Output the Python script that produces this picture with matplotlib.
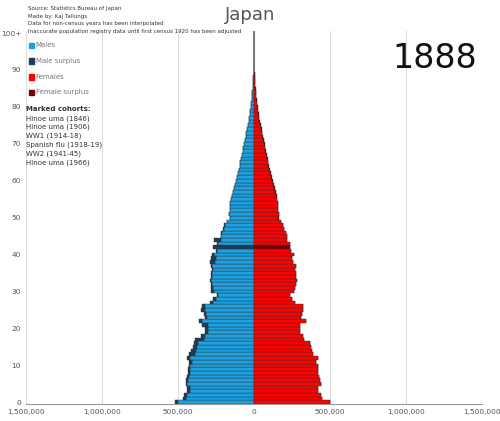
import matplotlib
matplotlib.use("Agg")
import matplotlib.pyplot as plt
import numpy as np

ages = list(range(0, 101))
males = [520,465,460,440,440,450,445,440,435,435,430,430,440,425,415,400,395,390,350,320,
         320,340,360,325,330,350,345,290,270,245,280,285,285,290,280,285,275,280,290,280,
         275,250,270,245,260,220,215,205,195,175,160,165,160,155,160,150,145,140,130,125,
         120,112,105,100,95,90,85,80,75,70,65,60,55,50,45,40,36,32,28,24,
         20,17,14,12,10,8,6,5,4,3,2,1.5,1,0.8,0.6,0.4,0.3,0.2,0.1,0.1,0.2]
females = [500,450,440,420,420,440,435,430,420,420,420,410,420,390,380,375,370,330,320,305,
           300,300,345,310,315,325,320,270,250,240,260,270,275,280,275,275,270,275,255,250,
           260,245,235,235,220,215,210,200,190,175,165,165,160,155,160,150,150,145,135,130,
           125,118,112,105,100,95,90,85,80,75,70,65,60,55,50,45,40,36,32,28,
           24,20,17,14,12,10,8,6,5,4,3,2,1.5,1,0.8,0.6,0.4,0.3,0.2,0.1,0.3]
males = np.array(males) * 1000
females = np.array(females) * 1000
marked_ages = [42]

c_m, c_ms, c_f, c_fs = "#1ba1e2", "#1f3b5a", "#ff0000", "#7a0000"

fig = plt.figure(figsize=(5, 4.21), dpi=100)
ax = fig.add_axes([0.052, 0.04, 0.912, 0.886])
a = np.array(ages)
common = np.minimum(males, females)
msur = np.clip(males - females, 0, None)
fsur = np.clip(females - males, 0, None)
mc = [c_ms if x in marked_ages else c_m for x in ages]
fc = [c_fs if x in marked_ages else c_f for x in ages]
kw = dict(height=1.0, edgecolor="#333333", linewidth=0.3)
ax.barh(a, -common, color=mc, **kw)
ax.barh(a, -msur, left=-common, color=c_ms, **kw)
ax.barh(a, common, color=fc, **kw)
ax.barh(a, fsur, left=common, color=c_fs, **kw)

ax.set_xlim(-1500000, 1500000)
ax.set_ylim(-0.5, 100.5)
xt = [-1500000, -1000000, -500000, 0, 500000, 1000000, 1500000]
ax.set_xticks(xt)
ax.set_xticklabels([f"{abs(v):,}" for v in xt], fontsize=5.3, color="#555555")
ax.set_yticks(range(0, 101, 10))
ax.set_yticklabels([str(v) for v in range(0, 100, 10)] + ["100+"], fontsize=5.3, color="#555555")
ax.tick_params(length=0)
ax.grid(axis="x", color="#dddddd", linewidth=0.8)
ax.set_axisbelow(True)
for s in ["top", "right", "left"]:
    ax.spines[s].set_visible(False)
ax.spines["bottom"].set_color("#999999")
ax.axvline(0, color="#bbbbbb", linewidth=0.8, zorder=0)

fig.text(0.5, 0.985, "Japan", ha="center", va="top", fontsize=13, color="#555555")
fig.text(0.955, 0.9, "1888", ha="right", va="top", fontsize=24, color="#111111")
notes = ["Source: Statistics Bureau of Japan", "Made by: Kaj Tallungs",
         "Data for non-census years has been interpolated",
         "Inaccurate population registry data until first census 1920 has been adjusted"]
for i, t in enumerate(notes):
    fig.text(0.055, 0.985 - i * 0.018, t, fontsize=4.0, color="#333333", va="top")
leg = [("Males", c_m), ("Male surplus", c_ms), ("Females", c_f), ("Female surplus", c_fs)]
for i, (t, c) in enumerate(leg):
    y = 0.893 - i * 0.0375
    fig.patches.append(matplotlib.patches.Rectangle((0.057, y - 0.007), 0.011, 0.013,
                       transform=fig.transFigure, color=c))
    fig.text(0.071, y, t, fontsize=5, color="#777777", va="center")
fig.text(0.053, 0.74, "Marked cohorts:", fontsize=5, color="#333333", fontweight="bold", va="center")
coh = ["Hinoe uma (1846)", "Hinoe uma (1906)", "WW1 (1914-18)", "Spanish flu (1918-19)",
       "WW2 (1941-45)", "Hinoe uma (1966)"]
for i, t in enumerate(coh):
    fig.text(0.053, 0.719 - i * 0.021, t, fontsize=5, color="#333333", va="center")

fig.savefig("out.png", dpi=100)
